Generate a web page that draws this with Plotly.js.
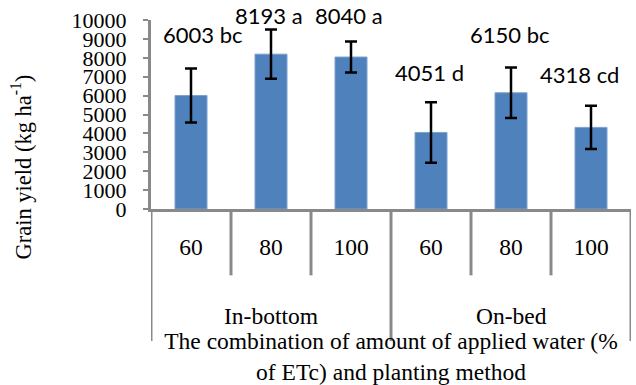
<!DOCTYPE html>
<html>
<head>
<meta charset="utf-8">
<script src="https://cdn.plot.ly/plotly-3.0.1.min.js"></script>
<style>html,body{margin:0;padding:0;background:#fff;}#chart{width:636px;height:385px;}</style>
</head>
<body>
<div id="chart"></div>
<script>
// ---- data ----
var categories = ["In-bottom 60", "In-bottom 80", "In-bottom 100", "On-bed 60", "On-bed 80", "On-bed 100"];
var waterLevels = ["60", "80", "100", "60", "80", "100"];
var groups = ["In-bottom", "On-bed"];
var yieldValues = [6003, 8193, 8040, 4051, 6150, 4318];
var errorValues = [1425, 1300, 820, 1600, 1335, 1145];
var letters = ["bc", "a", "a", "d", "bc", "cd"];
var yTicks = [0, 1000, 2000, 3000, 4000, 5000, 6000, 7000, 8000, 9000, 10000];

// ---- layout helpers (positions / styles) ----
var labelXShift = [12, -2, -2, -2, -1, -12];
var labelYShift = [34, 14, 26, 30, 33, 31];
var axisGray = "#898989";
var serif = "Liberation Serif, Times New Roman, serif";

var trace = {
  type: "bar",
  x: categories,
  y: yieldValues,
  marker: {color: "#4F81BD", line: {color: "#7DA1CF", width: 1}},
  error_y: {type: "data", array: errorValues, visible: true, color: "#000000", thickness: 2.5, width: 6},
  hoverinfo: "skip"
};

var annotations = [];
for (var i = 0; i < categories.length; i++) {
  annotations.push({
    x: categories[i], y: yieldValues[i] + errorValues[i], xref: "x", yref: "y",
    text: yieldValues[i] + " " + letters[i], showarrow: false,
    xanchor: "center", yanchor: "middle",
    xshift: labelXShift[i], yshift: labelYShift[i],
    font: {family: "Lato, Open Sans, sans-serif", size: 22, color: "#000"}
  });
}
// group labels
var groupCenters = [1, 4];
for (var g = 0; g < groups.length; g++) {
  annotations.push({
    x: groupCenters[g], y: -0.565, xref: "x", yref: "paper",
    text: groups[g], showarrow: false, xanchor: "center", yanchor: "middle",
    font: {family: serif, size: 23.5, color: "#000"}
  });
}
// y-axis title
annotations.push({
  x: -0.271, y: 0.224, xref: "paper", yref: "paper",
  text: "Grain yield (kg ha<sup>-1</sup>)", showarrow: false, textangle: -90,
  xanchor: "center", yanchor: "middle",
  font: {family: serif, size: 22.5, color: "#000"}
});

// category separators
var shapes = [];
for (var b = 0; b <= categories.length; b++) {
  var isLong = (b % 3 === 0);
  shapes.push({
    type: "line", xref: "x", yref: "paper",
    x0: b - 0.5, x1: b - 0.5, y0: 0, y1: isLong ? -0.699 : -0.351,
    line: {color: axisGray, width: 3}
  });
}

var layout = {
  width: 636, height: 385,
  margin: {l: 151, r: 5, t: 20, b: 175.5},
  paper_bgcolor: "#ffffff", plot_bgcolor: "#ffffff",
  showlegend: false,
  bargap: 0.6,
  xaxis: {
    type: "category",
    tickvals: categories, ticktext: waterLevels,
    range: [-0.5, 5.5],
    showline: true, linecolor: axisGray, linewidth: 3,
    ticks: "outside", ticklen: 15, tickcolor: "rgba(0,0,0,0)",
    showgrid: false, zeroline: false,
    tickfont: {family: serif, size: 23.5, color: "#000"},
    title: {
      text: "The combination of amount of applied water (%<br>of ETc) and planting method",
      font: {family: serif, size: 23.5, color: "#000"},
      standoff: 76
    },
    automargin: false, fixedrange: true
  },
  yaxis: {
    range: [0, 10000],
    tickvals: yTicks, ticktext: yTicks.map(String),
    showline: true, linecolor: axisGray, linewidth: 3,
    ticks: "outside", ticklen: 5, tickwidth: 2, tickcolor: axisGray,
    showgrid: false, zeroline: false,
    ticklabelstandoff: 12,
    tickfont: {family: serif, size: 22, color: "#000"},
    automargin: false, fixedrange: true
  },
  annotations: annotations,
  shapes: shapes
};

Plotly.newPlot("chart", [trace], layout, {displayModeBar: false, staticPlot: true});
</script>
</body>
</html>
